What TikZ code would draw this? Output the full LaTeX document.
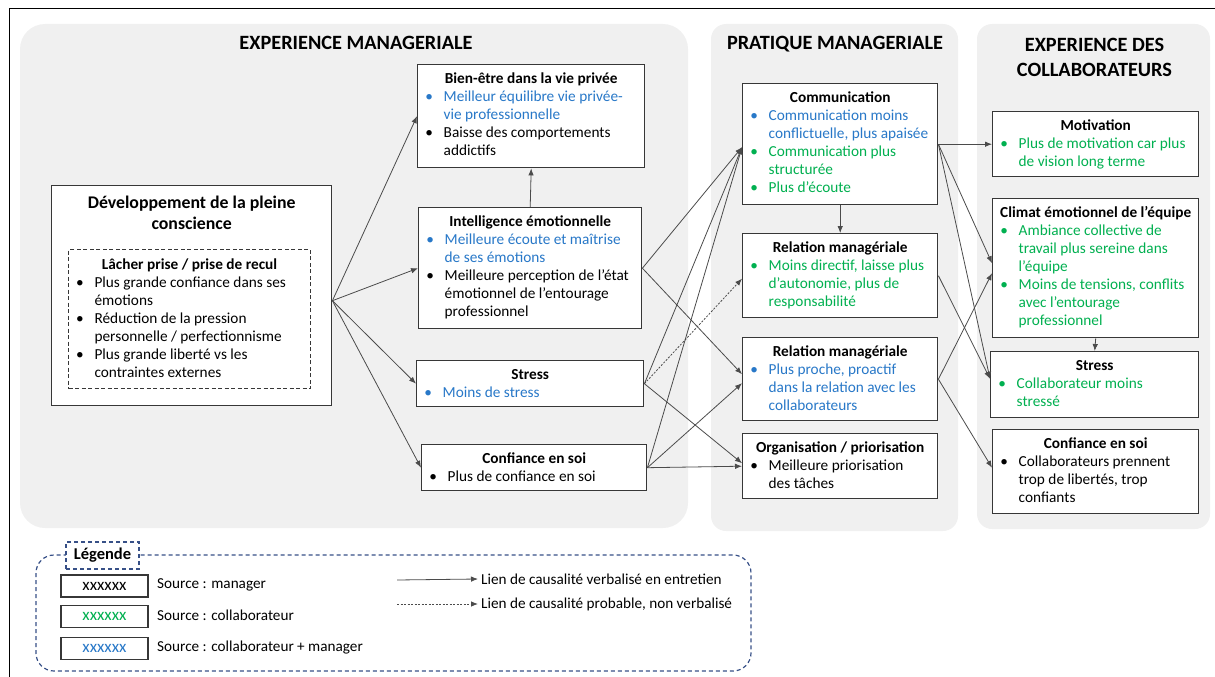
\documentclass[tikz,border=0pt]{standalone}
\usepackage{fontspec}
\setmainfont{Carlito}
\usetikzlibrary{arrows.meta,calc}

\definecolor{panel}{RGB}{240,240,240}
\definecolor{txtblue}{RGB}{40,120,200}
\definecolor{txtgreen}{RGB}{0,176,80}
\definecolor{edgecol}{RGB}{75,75,75}
\definecolor{boxline}{RGB}{55,55,55}
\definecolor{legline}{RGB}{55,80,135}

% box title: bold, centred, first baseline at #1 below the top edge
\newcommand\ttl[2][18.5pt]{{\centering\bfseries\rule{0pt}{#1}#2\par}}
% bullet item with hanging indent, coloured text; \\ breaks the line inside the item
\newcommand\itm[2][black]{\par\begingroup\let\\\newline\noindent\hangindent=26pt\hangafter=1\relax
  \hspace*{11.5pt}\makebox[0pt]{\textcolor{#1}{\textbullet}}\hspace*{14.5pt}\textcolor{#1}{#2}\par\endgroup}
% fixed-size box content: width, height, body
\newcommand\boxc[3]{\parbox[t][#2][t]{#1}{\fontsize{15.3}{18}\selectfont\raggedright #3}}

\tikzset{
  cbox/.style={draw=boxline, line width=1.4pt, fill=white, inner sep=0pt, anchor=north west},
  dbox/.style={draw=boxline, line width=1.1pt, dash pattern=on 4pt off 2.5pt, inner sep=0pt, anchor=north west},
  hdr/.style={font=\fontsize{20.3}{25}\selectfont\bfseries, align=center, inner sep=0pt},
  link/.style={draw=edgecol, line width=0.8pt, -{Latex[length=7pt,width=5.5pt]}},
  probable/.style={link, dash pattern=on 2pt off 1.5pt},
  sample/.style={draw=boxline, line width=1.4pt, fill=white, minimum width=87pt, minimum height=22pt, inner sep=0pt, font=\fontsize{17}{18}\selectfont},
  legtext/.style={anchor=west, inner sep=3pt, font=\fontsize{15.2}{18}\selectfont},
}

\begin{document}
\begin{tikzpicture}[x=1pt,y=-1pt]
\useasboundingbox (0,0) rectangle (1215,677);

% outer frame
\draw[line width=1pt] (9,677) -- (9,9) -- (1215,9);

% column panels
\fill[panel, rounded corners=25pt] (20,24) rectangle (688,528);
\fill[panel, rounded corners=15pt] (711,24) rectangle (958,531);
\fill[panel, rounded corners=15pt] (977,24) rectangle (1210,529);

% column headers
\node[hdr] (h1) at (356,43) {EXPERIENCE MANAGERIALE};
\node[hdr] (h2) at (835,44) {PRATIQUE MANAGERIALE};
\node[hdr] (h3) at (1094.5,57) {EXPERIENCE DES\\COLLABORATEURS};

% mindfulness box
\node[cbox] (dev) at (51,185) {\parbox[t][220pt][t]{280pt}{\fontsize{17.8}{21}\selectfont\centering\bfseries\rule{0pt}{22.5pt}Développement de la pleine\\conscience\par}};
\node[dbox] (recul) at (68,249) {\boxc{242pt}{139pt}{%
  \ttl[19.7pt]{Lâcher prise / prise de recul}%
  \itm{Plus grande confiance dans ses\\émotions}%
  \itm{Réduction de la pression\\personnelle / perfectionnisme}%
  \itm{Plus grande liberté vs les\\contraintes externes}}};

% managerial experience
\node[cbox] (bien) at (417,64) {\boxc{227pt}{103pt}{%
  \ttl{Bien-être dans la vie privée}%
  \itm[txtblue]{Meilleur équilibre vie privée-\\vie professionnelle}%
  \itm{Baisse des comportements\\addictifs}}};
\node[cbox] (intel) at (418,207) {\boxc{223pt}{121pt}{%
  \ttl{Intelligence émotionnelle}%
  \itm[txtblue]{Meilleure écoute et maîtrise\\de ses émotions}%
  \itm{Meilleure perception de l’état\\émotionnel de l’entourage\\professionnel}}};
\node[cbox] (stressL) at (416,360) {\boxc{227pt}{46pt}{%
  \ttl{Stress}%
  \itm[txtblue]{Moins de stress}}};
\node[cbox] (confL) at (421,444) {\boxc{225pt}{46pt}{%
  \ttl{Confiance en soi}%
  \itm{Plus de confiance en soi}}};

% managerial practice
\node[cbox] (comm) at (742,83) {\boxc{195pt}{121pt}{%
  \ttl{Communication}%
  \itm[txtblue]{Communication moins\\conflictuelle, plus apaisée}%
  \itm[txtgreen]{Communication plus\\structurée}%
  \itm[txtgreen]{Plus d’écoute}}};
\node[cbox] (rel1) at (742,233) {\boxc{195pt}{84pt}{%
  \ttl{Relation managériale}%
  \itm[txtgreen]{Moins directif, laisse plus\\d’autonomie, plus de\\responsabilité}}};
\node[cbox] (rel2) at (742,337) {\boxc{195pt}{83pt}{%
  \ttl{Relation managériale}%
  \itm[txtblue]{Plus proche, proactif\\dans la relation avec les\\collaborateurs}}};
\node[cbox] (org) at (742,433) {\boxc{195pt}{65pt}{%
  \ttl{Organisation / priorisation}%
  \itm{Meilleure priorisation\\des tâches}}};

% team experience
\node[cbox] (motiv) at (992,111) {\boxc{206pt}{65pt}{%
  \ttl{Motivation}%
  \itm[txtgreen]{Plus de motivation car plus\\de vision long terme}}};
\node[cbox] (climat) at (992,198) {\boxc{206pt}{139pt}{%
  \ttl{Climat émotionnel de l’équipe}%
  \itm[txtgreen]{Ambiance collective de\\travail plus sereine dans\\l’équipe}%
  \itm[txtgreen]{Moins de tensions, conflits\\avec l’entourage\\professionnel}}};
\node[cbox] (stressR) at (990,351) {\boxc{208pt}{66pt}{%
  \ttl{Stress}%
  \itm[txtgreen]{Collaborateur moins\\stressé}}};
\node[cbox] (confR) at (992,429) {\boxc{206pt}{84pt}{%
  \ttl{Confiance en soi}%
  \itm{Collaborateurs prennent\\trop de libertés, trop\\confiants}}};

% causal links: mindfulness -> managerial experience
\draw[link] ($(dev.east)+(0,5)$) -- (bien.west);
\draw[link] ($(dev.east)+(0,5)$) -- (intel.west);
\draw[link] ($(dev.east)+(0,5)$) -- (stressL.west);
\draw[link] ($(dev.east)+(0,5)$) -- (confL.west);
\draw[link] (intel.north) -- (bien.south);

% managerial experience -> managerial practice
\draw[link] (intel.east) -- ($(comm.west)+(0,3)$);
\draw[link] (stressL.east) -- ($(comm.west)+(0,3)$);
\draw[link] (confL.east) -- ($(comm.west)+(0,3)$);
\draw[link] (intel.east) -- ($(rel2.west)+(0,-5)$);
\draw[link] (confL.east) -- ($(rel2.west)+(0,4)$);
\draw[probable] (stressL.east) -- ($(rel1.west)+(0,3)$);
\draw[link] (stressL.east) -- ($(org.west)+(0,-3)$);
\draw[link] (confL.east) -- (org.west);
\draw[link] (comm.south) -- (rel1.north);

% managerial practice -> team experience
\draw[link] (comm.east) -- (motiv.west);
\draw[link] (comm.east) -- ($(climat.west)+(0,-5)$);
\draw[link] (comm.east) -- ($(stressR.west)+(0,-6)$);
\draw[link] (rel1.east) -- ($(stressR.west)+(0,-6)$);
\draw[link] (rel2.east) -- ($(climat.west)+(0,5)$);
\draw[link] (rel2.east) -- ($(confR.west)+(0,-4)$);
\draw[link] (climat.south) -- (stressR.north);

% legend
\draw[legline, line width=1.2pt, dash pattern=on 4pt off 3pt, rounded corners=18pt] (36,555) rectangle (751,671);
\node[draw=legline, line width=1.2pt, dash pattern=on 4pt off 3pt, fill=white, minimum width=73pt, minimum height=27pt, inner sep=0pt, font=\fontsize{16.5}{18}\selectfont\bfseries] (legt) at (102.5,555.5) {Légende};

\node[sample] (s1) at (104.5,586) {xxxxxx};
\node[sample, text=txtgreen] (s2) at (104.5,616.5) {xxxxxx};
\node[sample, text=txtblue] (s3) at (104.5,648.5) {xxxxxx};
\node[legtext] (l1) at (154,585) {Source : manager};
\node[legtext] (l2) at (154,615) {Source : collaborateur};
\node[legtext] (l3) at (154,648) {Source : collaborateur + manager};

\coordinate (a1s) at (397,580);
\coordinate (a2s) at (397,604);
\node[legtext] (l4) at (478,579) {Lien de causalité verbalisé en entretien};
\node[legtext] (l5) at (478,604) {Lien de causalité probable, non verbalisé};
\draw[link] (a1s) -- (l4.west);
\draw[probable] (a2s) -- (l5.west);
\end{tikzpicture}
\end{document}
